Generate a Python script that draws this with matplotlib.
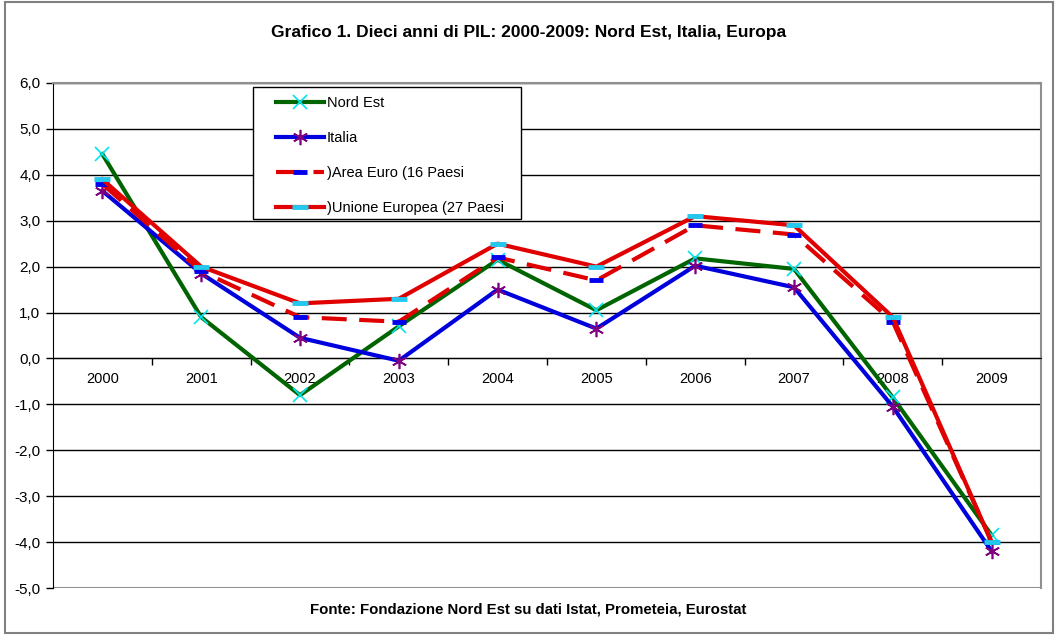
import matplotlib.pyplot as plt
from matplotlib.patches import Rectangle
from matplotlib.ticker import FuncFormatter, FixedLocator

plt.rcParams['font.family'] = ['Liberation Sans', 'DejaVu Sans']

years = ['2000', '2001', '2002', '2003', '2004', '2005', '2006', '2007', '2008', '2009']
nord_est = [4.45, 0.9, -0.8, 0.7, 2.15, 1.05, 2.18, 1.95, -0.85, -3.85]
italia = [3.65, 1.85, 0.45, -0.05, 1.5, 0.65, 2.02, 1.55, -1.05, -4.2]
area_euro = [3.8, 1.9, 0.9, 0.8, 2.2, 1.7, 2.9, 2.7, 0.8, -4.0]
ue27 = [3.9, 2.0, 1.2, 1.3, 2.5, 2.0, 3.1, 2.9, 0.9, -4.0]
labels = ['Nord Est', 'Italia', ')Area Euro (16 Paesi', ')Unione Europea (27 Paesi']
y_ticks = [6, 5, 4, 3, 2, 1, 0, -1, -2, -3, -4, -5]

W, H = 1057, 635
fig = plt.figure(figsize=(W / 100, H / 100), dpi=100)
ax = fig.add_axes([53 / W, 1 - 588 / H, 988 / W, 505 / H])
x = list(range(len(years)))

ax.plot(x, nord_est, color='#006400', lw=3, marker='x', ms=10, mec='#00e5ee', mew=1.2, label=labels[0], zorder=3)
ax.plot(x, italia, color='#0000dd', lw=3, marker=(6, 2, 0), ms=11, mec='#800080', mew=1.2, label=labels[1], zorder=3)
ax.plot(x, area_euro, color='#e00000', lw=3, dashes=(6, 3), marker='_', ms=10, mec='#0000ee', mew=3.5, label=labels[2], zorder=3)
ax.plot(x, ue27, color='#e00000', lw=3, marker='_', ms=11, mec='#22c8ee', mew=3.5, label=labels[3], zorder=3)

ax.set_xlim(-0.5, 9.5)
ax.set_ylim(-5, 6)
ax.set_yticks(y_ticks)
ax.yaxis.set_major_formatter(FuncFormatter(lambda v, p: f'{v:.1f}'.replace('.', ',')))
ax.tick_params(axis='y', direction='out', length=5, width=1, labelsize=11, pad=4)
for v in y_ticks[:-1]:
    ax.axhline(v, color='black', lw=1, zorder=1)

# category axis sits on zero, ticks between categories, labels below
ax.xaxis.set_major_locator(FixedLocator([i + 0.5 for i in range(9)]))
ax.xaxis.set_minor_locator(FixedLocator(x))
ax.set_xticklabels([], minor=False)
ax.set_xticklabels(years, minor=True)
ax.tick_params(axis='x', which='major', direction='out', length=5, width=1)
ax.tick_params(axis='x', which='minor', length=0, labelsize=10.5, pad=10)
ax.spines['bottom'].set_position(('data', 0))
ax.spines['bottom'].set_color('black')
ax.axhline(-5, color='#909090', lw=1.5, zorder=1)
ax.spines['left'].set_color('black')
for s in ['top', 'right']:
    ax.spines[s].set_color('#909090')
    ax.spines[s].set_linewidth(1.5)

# legend without frame, box drawn separately
fig.legend(loc='upper left', bbox_to_anchor=(276 / W, 1 - 96 / H),
           fontsize=10.5, frameon=False, numpoints=1, handlelength=3.3,
           handletextpad=0.2, labelspacing=1.45, borderpad=0, borderaxespad=0)
fig.patches.append(Rectangle((253 / W, 1 - 219 / H), 268 / W, 132 / H, transform=fig.transFigure,
                             facecolor='white', edgecolor='black', lw=1, zorder=4))

fig.text(0.5, 1 - 32 / H, 'Grafico 1. Dieci anni di PIL: 2000-2009: Nord Est, Italia, Europa',
         ha='center', va='center', fontsize=12.5, fontweight='bold')
fig.text(0.5, 1 - 610 / H, 'Fonte: Fondazione Nord Est su dati Istat, Prometeia, Eurostat',
         ha='center', va='center', fontsize=10.8, fontweight='bold')
fig.patches.append(Rectangle((5 / W, 2 / H), 1048 / W, 631 / H, transform=fig.transFigure,
                             fill=False, edgecolor='#808080', lw=1.5))

fig.savefig('out.png', dpi=100)
